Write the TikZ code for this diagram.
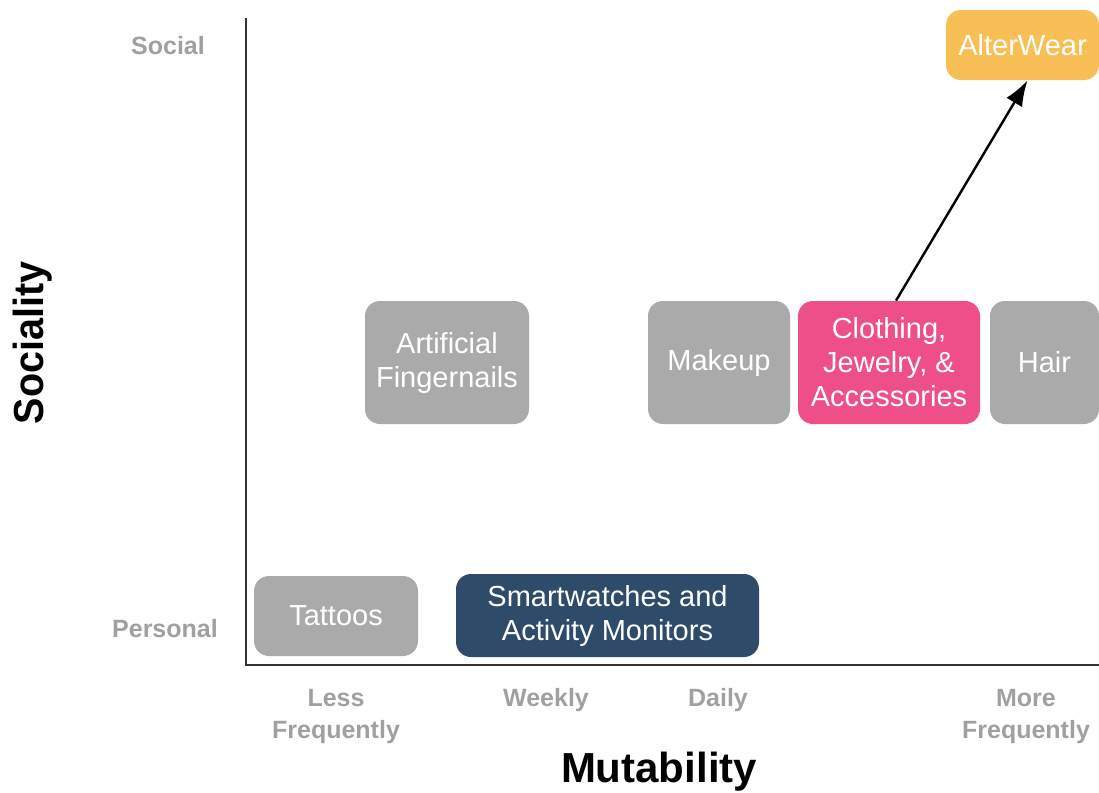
\documentclass[tikz,border=0pt]{standalone}
\usepackage{fontspec}
\setmainfont{Liberation Sans}
\newfontfamily\condfont[FakeStretch=0.94]{Liberation Sans}
\usetikzlibrary{arrows.meta}

\definecolor{boxgray}{HTML}{AAAAAA}
\definecolor{labelgray}{HTML}{A0A0A0}
\definecolor{clothpink}{HTML}{EE4F87}
\definecolor{watchnavy}{HTML}{2F4B6A}
\definecolor{alterorange}{HTML}{F9BF57}
\definecolor{axisgray}{HTML}{333333}

\begin{document}
\begin{tikzpicture}[x=0.5pt, y=-0.5pt,
	every node/.style={font=\fontsize{14.5}{17}\selectfont},
	item/.style={rectangle, rounded corners=7.5pt, inner sep=0pt, text=white, align=center},
	tick/.style={text=labelgray, align=center, font=\fontsize{12.5}{16}\selectfont\bfseries},
	>={Latex[length=4.5mm, width=3.2mm]}]
	\useasboundingbox (0,0) rectangle (1099,793);
	% axes
	\draw[axisgray, line width=1pt] (246,18) -- (246,665) -- (1099,665);
	\node[tick] (social) at (168,46) {Social};
	\node[tick] (personal) at (165,629) {Personal};
	\node[tick] (less) at (336,716) {Less\\Frequently};
	\node[tick] (weekly) at (546,700) {Weekly};
	\node[tick] (daily) at (718,700) {Daily};
	\node[tick] (more) at (1026,716) {More\\Frequently};
	\node[font=\fontsize{21}{25}\selectfont\bfseries] (mutability) at (659,772) {Mutability};
	\node[rotate=90, font=\fontsize{21}{25}\selectfont\condfont\bfseries] (sociality) at (33,343) {Sociality};
	% boxes
	\node[item, fill=alterorange, minimum width=76.5pt, minimum height=35pt] (alterwear) at (1022.5,45) {AlterWear};
	\node[item, fill=boxgray, minimum width=82pt, minimum height=61.5pt] (fingernails) at (447,362.5) {Artificial\\Fingernails};
	\node[item, fill=boxgray, minimum width=71pt, minimum height=61.5pt] (makeup) at (719,362.5) {Makeup};
	\node[item, fill=clothpink, minimum width=91pt, minimum height=61.5pt] (clothing) at (889,362.5) {Clothing,\\Jewelry, \&\\Accessories};
	\node[item, fill=boxgray, minimum width=54.5pt, minimum height=61.5pt] (hair) at (1044.5,362.5) {Hair};
	\node[item, fill=boxgray, minimum width=82pt, minimum height=40pt] (tattoos) at (336,616) {Tattoos};
	\node[item, fill=watchnavy, minimum width=151.5pt, minimum height=41.5pt] (smartwatches) at (607.5,615.5) {Smartwatches and\\Activity Monitors};
	% arrow
	\draw[->, line width=1.2pt] ([xshift=3.5pt]clothing.north) -- ([xshift=2.5pt]alterwear.south);
\end{tikzpicture}
\end{document}
